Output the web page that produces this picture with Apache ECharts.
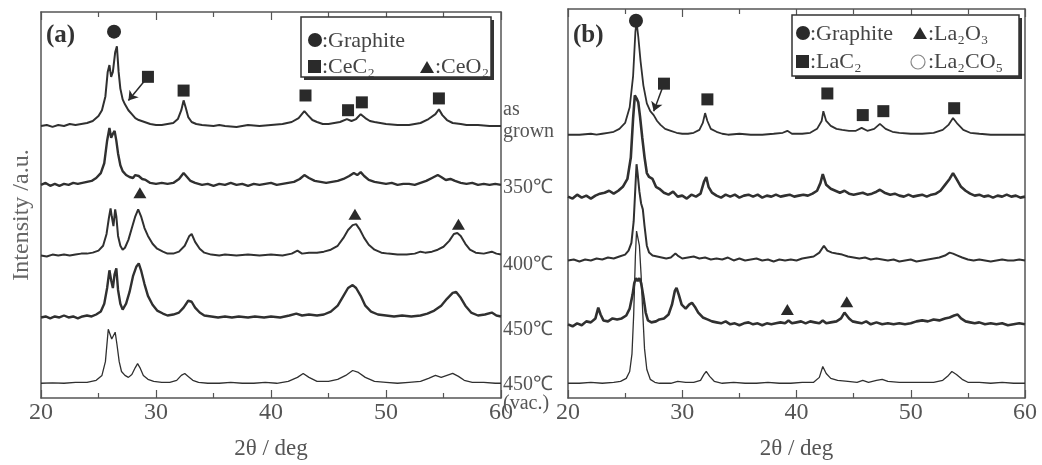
<!DOCTYPE html>
<html>
<head>
<meta charset="utf-8">
<title>XRD patterns</title>
<script src="https://cdn.jsdelivr.net/npm/echarts@6.0.0/dist/echarts.min.js"></script>
<style>
html,body{margin:0;padding:0;background:#fff;}
#main{width:1042px;height:465px;}
</style>
</head>
<body>
<div id="main"></div>
<script>
/** ---------------- data (2θ, intensity above own baseline) ---------------- */
var sampleNames = ['as grown', '350℃', '400℃', '450℃', '450℃ (vac.)'];

// (a) Ce
var ceAsGrown = [[20,0],[20.5,1],[21,-1],[21.5,1],[22,0],[22.5,2],[23,1],[23.5,2],[24,3],[24.5,5],[25,10],[25.3,16],[25.6,30],[25.8,55],[25.95,62],[26.1,50],[26.25,55],[26.45,75],[26.6,81],[26.75,55],[26.9,38],[27.1,27],[27.3,22],[27.6,16],[27.9,12],[28.2,8],[28.5,6],[29,4],[29.5,2],[30,1],[30.5,1],[31,2],[31.5,3],[31.9,7],[32.2,16],[32.4,26],[32.6,18],[32.8,9],[33.1,4],[33.5,2],[34,1],[35,0],[35.5,1],[36,0],[37,-1],[37.5,0],[38,1],[39,0],[40,1],[41,2],[41.8,4],[42.4,8],[42.9,15],[43.2,11],[43.6,6],[44,4],[44.5,2],[45,2],[45.5,3],[46,4],[46.6,7],[47,5],[47.4,7],[47.8,12],[48.2,8],[48.6,5],[49,4],[50,2],[51,1],[52,1],[53,3],[53.7,7],[54.3,12],[54.6,17],[54.9,11],[55.3,6],[55.8,3],[56.5,2],[57,1],[58,1],[59,0],[60,0]];
var ce350 = [[20,0],[20.4,2],[20.8,-1],[21.2,1],[21.6,-1],[22,1],[22.4,0],[22.8,2],[23.2,1],[23.6,2],[24,3],[24.4,4],[24.8,7],[25.2,12],[25.5,22],[25.75,45],[25.95,58],[26.1,48],[26.25,52],[26.4,55],[26.55,45],[26.7,32],[26.9,20],[27.1,14],[27.4,10],[27.7,8],[28,7],[28.2,10],[28.5,9],[28.8,6],[29.1,5],[29.5,2],[30,1],[30.5,2],[31,1],[31.5,2],[32,6],[32.4,12],[32.7,8],[33,4],[33.4,2],[34,0],[34.5,1],[35,-1],[35.5,1],[36,0],[36.5,2],[37,0],[37.5,1],[38,-1],[38.5,1],[39,0],[39.5,1],[40,2],[40.5,0],[41,1],[41.5,2],[42,3],[42.5,6],[42.9,10],[43.3,7],[43.8,4],[44.3,3],[44.8,2],[45.3,3],[45.8,4],[46.3,6],[46.8,9],[47.2,12],[47.5,10],[47.8,13],[48.1,9],[48.5,5],[49,3],[49.5,2],[50,1],[50.5,2],[51,0],[51.5,1],[52,1],[52.5,0],[53,2],[53.5,4],[54,7],[54.5,10],[54.8,8],[55.2,5],[55.6,6],[56,4],[56.5,2],[57,1],[57.5,2],[58,0],[58.5,1],[59,0],[59.5,1],[60,0]];
var ce400 = [[20,0],[20.5,-1],[21,1],[21.5,0],[22,1],[22.5,0],[23,1],[23.5,2],[24,2],[24.5,3],[25,5],[25.4,10],[25.7,22],[25.9,38],[26.05,48],[26.15,40],[26.3,30],[26.45,47],[26.55,40],[26.7,20],[26.9,10],[27.1,6],[27.3,8],[27.6,16],[27.9,28],[28.2,40],[28.45,47],[28.7,40],[29,28],[29.3,20],[29.7,12],[30.1,7],[30.6,4],[31,2],[31.5,2],[32,4],[32.5,10],[32.9,20],[33.1,22],[33.4,14],[33.8,7],[34.2,3],[34.8,1],[35.5,0],[36,1],[37,0],[38,1],[39,0],[40,1],[41,0],[41.8,2],[42.3,5],[42.7,2],[43.3,3],[44,3],[44.6,4],[45.2,6],[45.8,10],[46.3,18],[46.7,26],[47.1,31],[47.4,32],[47.7,27],[48.1,18],[48.5,11],[49,6],[49.6,3],[50.2,2],[51,1],[51.8,1],[52.5,2],[53,4],[53.4,3],[54,4],[54.5,6],[55,9],[55.5,15],[55.9,22],[56.2,23],[56.5,20],[56.9,12],[57.3,6],[57.8,3],[58.5,2],[59.2,4],[59.6,2],[60,1]];
var ce450 = [[20,0],[20.4,1],[20.8,-1],[21.2,1],[21.6,0],[22,2],[22.4,0],[22.8,1],[23.2,-1],[23.6,1],[24,2],[24.4,1],[24.8,3],[25.2,6],[25.5,14],[25.75,30],[25.95,48],[26.1,38],[26.25,30],[26.4,44],[26.55,50],[26.7,28],[26.9,14],[27.1,8],[27.4,14],[27.7,26],[28,42],[28.3,52],[28.5,55],[28.7,48],[29,34],[29.3,22],[29.7,13],[30.1,7],[30.6,4],[31,2],[31.5,3],[32,5],[32.4,10],[32.8,17],[33.1,16],[33.4,10],[33.8,5],[34.2,2],[34.8,1],[35.4,0],[36,1],[36.6,0],[37.2,1],[38,0],[38.6,1],[39.4,0],[40,1],[40.8,0],[41.6,2],[42.2,4],[42.7,2],[43.3,3],[44,2],[44.6,3],[45.2,6],[45.8,12],[46.3,22],[46.7,30],[47.1,33],[47.4,30],[47.8,22],[48.2,12],[48.7,6],[49.3,3],[50,2],[50.7,1],[51.4,2],[52.2,1],[53,2],[53.6,4],[54.2,7],[54.8,12],[55.3,19],[55.8,25],[56.1,26],[56.5,20],[56.9,12],[57.4,5],[58,2],[58.6,3],[59.2,5],[59.6,2],[60,1]];
var ceVac = [[20,0],[21,0.5],[22,0],[23,1],[24,1],[24.8,3],[25.3,8],[25.6,22],[25.85,55],[26,57],[26.15,45],[26.3,45],[26.45,52],[26.6,40],[26.8,22],[27,12],[27.3,8],[27.6,6],[27.9,9],[28.2,16],[28.4,20],[28.6,16],[28.9,8],[29.3,4],[29.8,2],[30.5,1],[31.2,1],[31.8,3],[32.2,8],[32.5,10],[32.8,7],[33.2,3],[33.7,1],[34.5,0],[35.5,0],[36.5,1],[37.5,0],[38.5,0],[39.5,1],[40.5,0],[41.5,2],[42.3,6],[42.8,10],[43.3,6],[44,2],[45,2],[45.8,4],[46.5,8],[47.1,13],[47.6,11],[48.2,6],[49,2],[50,1],[51,0],[52,1],[53,2],[53.7,5],[54.3,8],[54.8,6],[55.3,8],[55.8,10],[56.3,7],[56.8,3],[57.5,1],[58.5,1],[59.5,0],[60,0]];

// (b) La
var laAsGrown = [[20,0],[21,0],[22,1],[22.5,0],[23,1],[23.5,2],[24,3],[24.5,6],[25,12],[25.4,28],[25.7,60],[25.9,105],[26.0,115],[26.15,100],[26.35,75],[26.6,50],[26.9,32],[27.2,24],[27.5,20],[27.8,14],[28.1,10],[28.5,6],[29,4],[29.5,2],[30,1],[30.5,1],[31,2],[31.5,5],[31.8,12],[32.0,22],[32.2,14],[32.5,6],[33,3],[33.5,1],[34,0],[35,1],[36,0],[37,0],[38,1],[38.8,2],[39.2,4],[39.6,1],[40.5,1],[41.2,2],[41.8,6],[42.2,14],[42.35,24],[42.6,14],[43,9],[43.5,6],[44,5],[44.6,4],[45.2,4],[45.7,7],[46.2,4],[46.8,6],[47.3,11],[47.8,6],[48.4,3],[49,2],[50,1],[51,1],[52,2],[52.8,5],[53.3,10],[53.7,17],[54.1,11],[54.6,5],[55.2,2],[56,1],[57,0],[58,0],[59,0],[60,0]];
var la350 = [[20,0],[20.4,-2],[20.8,2],[21.2,-1],[21.6,1],[22,-2],[22.4,1],[22.8,3],[23.2,4],[23.6,6],[24,3],[24.4,6],[24.8,10],[25.2,18],[25.5,40],[25.7,80],[25.85,103],[26.0,100],[26.15,96],[26.3,82],[26.5,60],[26.7,40],[26.9,24],[27.1,20],[27.4,18],[27.7,10],[28,8],[28.4,4],[28.8,2],[29.2,5],[29.6,0],[30,1],[30.4,-2],[30.8,2],[31.2,0],[31.6,3],[31.9,15],[32.1,20],[32.3,10],[32.6,4],[33,1],[33.4,-1],[33.8,2],[34.2,0],[34.6,2],[35,-1],[35.4,1],[35.8,2],[36.2,0],[36.6,2],[37,-1],[37.4,1],[37.8,0],[38.2,2],[38.6,0],[39,1],[39.4,2],[39.8,0],[40.2,1],[40.6,2],[41,1],[41.4,3],[41.8,6],[42.1,14],[42.3,23],[42.6,12],[43,8],[43.4,6],[43.8,4],[44.2,6],[44.6,3],[45,2],[45.4,3],[45.8,4],[46.2,2],[46.6,3],[47,5],[47.3,7],[47.7,4],[48.2,2],[48.6,3],[49,1],[49.4,0],[49.8,2],[50.2,0],[50.6,1],[51,2],[51.4,0],[51.8,2],[52.2,3],[52.6,6],[53,12],[53.4,18],[53.7,24],[54,18],[54.4,10],[54.8,6],[55.2,3],[55.6,1],[56,2],[56.4,0],[56.8,1],[57.2,-1],[57.6,1],[58,0],[58.4,2],[58.8,0],[59.2,1],[59.6,-1],[60,0]];
var la400 = [[20,0],[20.5,1],[21,-1],[21.5,1],[22,0],[22.5,2],[23,1],[23.5,3],[24,2],[24.5,4],[25,6],[25.3,10],[25.55,18],[25.75,40],[25.9,75],[26.0,98],[26.1,88],[26.25,70],[26.4,58],[26.55,52],[26.7,35],[26.9,15],[27.1,8],[27.4,5],[27.8,4],[28.2,3],[28.6,2],[29,3],[29.4,7],[29.6,5],[30,2],[30.5,3],[31,4],[31.5,2],[32,3],[32.5,1],[33,2],[33.5,1],[34,3],[34.5,0],[35,2],[35.5,0],[36,1],[36.5,2],[37,0],[37.5,1],[38,-1],[38.5,1],[39,0],[39.5,1],[40,0],[40.5,2],[41,3],[41.5,4],[42,8],[42.4,15],[42.7,10],[43.1,8],[43.5,7],[44,6],[44.5,4],[45,3],[45.5,2],[46,3],[46.5,1],[47,2],[47.5,1],[48,0],[48.5,1],[49,-1],[49.5,0],[50,1],[50.5,-1],[51,0],[51.5,1],[52,2],[52.5,3],[53,5],[53.4,8],[53.7,7],[54.1,5],[54.5,3],[55,1],[55.5,0],[56,1],[56.5,0],[57,-1],[57.5,0],[58,1],[58.5,0],[59,0],[59.5,1],[60,0]];
var la450 = [[20,0],[20.4,-2],[20.8,1],[21.2,-1],[21.6,3],[22,2],[22.4,6],[22.65,17],[22.85,10],[23.1,4],[23.5,3],[23.9,6],[24.3,5],[24.7,6],[25.1,9],[25.4,16],[25.65,30],[25.8,42],[25.95,47],[26.1,44],[26.25,47],[26.4,42],[26.6,28],[26.8,12],[27.0,4],[27.3,2],[27.7,3],[28,5],[28.4,6],[28.8,10],[29.1,20],[29.35,34],[29.5,37],[29.7,30],[29.95,20],[30.3,16],[30.6,20],[30.85,22],[31.1,18],[31.4,12],[31.8,7],[32.2,5],[32.6,3],[33,2],[33.4,1],[33.8,3],[34.2,0],[34.6,1],[35,-1],[35.4,1],[35.8,2],[36.2,0],[36.6,1],[37,-1],[37.4,1],[37.8,0],[38.2,1],[38.6,2],[39,1],[39.3,4],[39.6,1],[40,2],[40.4,3],[40.8,1],[41.2,3],[41.6,2],[42,1],[42.3,4],[42.6,1],[43,2],[43.5,3],[43.9,6],[44.2,12],[44.35,14],[44.6,6],[44.9,3],[45.3,2],[45.7,1],[46.1,3],[46.5,0],[47,2],[47.5,0],[48,1],[48.5,0],[49,1],[49.5,0],[50,1],[50.5,3],[51,4],[51.5,3],[52,5],[52.5,4],[53,6],[53.4,7],[53.8,9],[54.1,10],[54.4,6],[54.8,3],[55.2,2],[55.6,1],[56,2],[56.5,0],[57,1],[57.5,0],[58,1],[58.5,-1],[59,0],[59.5,1],[60,0]];
var laVac = [[20,0],[21,0],[22,1],[23,0],[24,1],[24.6,2],[25.1,5],[25.4,12],[25.6,30],[25.75,70],[25.9,130],[26.0,155],[26.1,155],[26.25,140],[26.4,110],[26.55,70],[26.7,35],[26.9,14],[27.2,4],[27.6,1],[28,0],[29,0],[29.6,2],[30.3,1],[31,1],[31.6,3],[31.9,9],[32.1,12],[32.4,7],[32.8,2],[33.5,0],[34.5,1],[35.5,0],[36.5,0],[37.5,1],[38.5,0],[39.5,0],[40.5,1],[41.5,1],[42,6],[42.3,17],[42.6,10],[43,5],[43.6,3],[44.5,2],[45.3,1],[45.8,3],[46.3,1],[47,3],[47.5,4],[48,2],[49,1],[50,1],[51,1],[52,1],[52.8,3],[53.3,8],[53.6,12],[54,9],[54.5,4],[55,1],[56,1],[57,0],[58,1],[59,0],[60,0]];

// stacking offsets of each pattern (a.u.)
var offsetsA = [277, 217, 145, 82, 15];
var offsetsB = [268, 205, 140, 75, 15];

// phase markers [2θ, a.u.]
var graphiteA = [[26.35, 373]];
var carbideA = [[29.3, 327], [32.4, 313], [43.0, 308], [46.7, 293], [47.9, 301], [54.6, 305]];
var oxideA = [[28.6, 209], [47.3, 187], [56.3, 177]];
var arrowA = [[29.3, 327], [27.6, 303]];

var graphiteB = [[25.95, 384]];
var carbideB = [[28.4, 320], [32.2, 304], [42.7, 310], [45.8, 288], [47.6, 292], [53.8, 295]];
var oxideB = [[39.2, 90], [44.4, 98]];
var arrowB = [[28.4, 320], [27.5, 292]];

var xTicks = { min: 20, max: 60, interval: 10 };

window.onload = function() {
	initCharts();
};

/** -------- build stacked pattern series ------ */
function stack(trace, offset) {
	var out = [];
	for (var i = 0; i < trace.length; i++) {
		out.push([trace[i][0], trace[i][1] + offset]);
	}
	return out;
}

function patternSeries(traces, offsets, idx, widths) {
	var list = [];
	for (var i = 0; i < traces.length; i++) {
		list.push({
			name: sampleNames[i],
			type: 'line',
			xAxisIndex: idx * 2,
			yAxisIndex: idx * 2,
			data: stack(traces[i], offsets[i]),
			showSymbol: false,
			symbol: 'none',
			lineStyle: { color: '#303030', width: widths[i] },
			z: 3
		});
	}
	return list;
}

function markerSeries(data, symbol, size, idx) {
	return {
		type: 'scatter',
		xAxisIndex: idx * 2,
		yAxisIndex: idx * 2,
		data: data,
		symbol: symbol,
		symbolSize: size,
		itemStyle: { color: '#2a2a2a', opacity: 1 },
		z: 5
	};
}

function arrowSeries(data, idx) {
	return {
		type: 'lines',
		coordinateSystem: 'cartesian2d',
		xAxisIndex: idx * 2,
		yAxisIndex: idx * 2,
		symbol: ['none', 'arrow'],
		symbolSize: 9,
		lineStyle: { color: '#2a2a2a', width: 1.5, opacity: 1 },
		data: [{ coords: data }],
		z: 4
	};
}

function xAxisPair(grid) {
	var base = {
		gridIndex: grid,
		type: 'value',
		min: xTicks.min,
		max: xTicks.max,
		interval: xTicks.interval,
		axisLine: { show: true, onZero: false, lineStyle: { color: '#555', width: 1.5 } },
		axisTick: { show: true, inside: true, length: 8, lineStyle: { color: '#555', width: 1.2 } },
		minorTick: { show: true, splitNumber: 2, length: 5, lineStyle: { color: '#555', width: 1.2 } },
		splitLine: { show: false },
		axisLabel: { show: true, fontFamily: 'Liberation Serif', fontSize: 24, color: '#555', margin: 3 },
		name: '2θ / deg',
		nameLocation: 'middle',
		nameGap: 39,
		nameTextStyle: { fontFamily: 'Liberation Serif', fontSize: 23, color: '#555' }
	};
	var top = echarts.util.clone(base);
	top.position = 'top';
	top.axisLabel = { show: false };
	top.name = '';
	return [base, top];
}

function yAxisPair(grid, max) {
	var base = {
		gridIndex: grid,
		type: 'value',
		min: 0,
		max: max,
		axisLine: { show: true, lineStyle: { color: '#555', width: 1.5 } },
		axisTick: { show: false },
		axisLabel: { show: false },
		splitLine: { show: false }
	};
	var right = echarts.util.clone(base);
	right.position = 'right';
	return [base, right];
}

/** -------- legend boxes and labels ------ */
function textEl(x, y, str, size, color, extra) {
	var el = {
		type: 'text',
		x: x,
		y: y,
		style: {
			text: str,
			fontFamily: 'Liberation Serif',
			fontSize: size,
			fill: color,
			verticalAlign: 'middle'
		},
		z: 20
	};
	if (extra) {
		for (var k in extra) { el.style[k] = extra[k]; }
	}
	return el;
}

function legendBox(g, x, y, w, h) {
	// dark drop shadow, then the white box
	g.push({
		type: 'rect',
		shape: { x: x + 3, y: y + 3, width: w, height: h },
		style: { fill: '#333' },
		z: 9
	});
	g.push({
		type: 'rect',
		shape: { x: x, y: y, width: w, height: h },
		style: { fill: '#fff', stroke: '#333', lineWidth: 1.5 },
		z: 10
	});
}

function buildGraphic() {
	var g = [];
	// (a) legend
	legendBox(g, 301, 17, 190, 60);
	g.push({ type: 'circle', shape: { cx: 315, cy: 40, r: 7 }, style: { fill: '#2a2a2a' }, z: 20 });
	g.push(textEl(322, 41, ':Graphite', 22, '#444'));
	g.push({ type: 'rect', shape: { x: 308, y: 60, width: 13, height: 13 }, style: { fill: '#2a2a2a' }, z: 20 });
	g.push(textEl(322, 67, ':CeC₂', 22, '#444'));
	g.push({ type: 'polygon', shape: { points: [[420, 73], [434, 73], [427, 61]] }, style: { fill: '#2a2a2a' }, z: 20 });
	g.push(textEl(435, 67, ':CeO₂', 22, '#444'));
	// (b) legend
	legendBox(g, 792, 15, 227, 61);
	g.push({ type: 'circle', shape: { cx: 803, cy: 33, r: 7 }, style: { fill: '#2a2a2a' }, z: 20 });
	g.push(textEl(810, 34, ':Graphite', 22, '#444'));
	g.push({ type: 'polygon', shape: { points: [[913, 39], [927, 39], [920, 27]] }, style: { fill: '#2a2a2a' }, z: 20 });
	g.push(textEl(928, 34, ':La₂O₃', 22, '#444'));
	g.push({ type: 'rect', shape: { x: 796, y: 55, width: 13, height: 13 }, style: { fill: '#2a2a2a' }, z: 20 });
	g.push(textEl(810, 62, ':LaC₂', 22, '#444'));
	g.push({ type: 'circle', shape: { cx: 918, cy: 62, r: 7 }, style: { fill: 'none', stroke: '#888', lineWidth: 1.2 }, z: 20 });
	g.push(textEl(928, 62, ':La₂CO₅', 22, '#444'));
	// panel tags
	g.push(textEl(46, 36, '(a)', 25, '#333', { fontWeight: 'bold' }));
	g.push(textEl(573, 36, '(b)', 25, '#333', { fontWeight: 'bold' }));
	// sample labels
	g.push(textEl(503, 110, 'as', 20, '#555'));
	g.push(textEl(503, 132, 'grown', 20, '#555'));
	g.push(textEl(503, 188, '350℃', 20, '#555'));
	g.push(textEl(503, 265, '400℃', 20, '#555'));
	g.push(textEl(503, 330, '450℃', 20, '#555'));
	g.push(textEl(503, 385, '450℃', 20, '#555'));
	g.push(textEl(503, 404, '(vac.)', 20, '#555'));
	// y title
	g.push({
		type: 'text',
		x: 22,
		y: 215,
		rotation: Math.PI / 2,
		style: { text: 'Intensity /a.u.', fontFamily: 'Liberation Serif', fontSize: 24, fill: '#666', align: 'center', verticalAlign: 'middle' },
		z: 20
	});
	return g;
}

/** -------- chart ------ */
function initCharts() {
	var chart = echarts.init(document.getElementById('main'), null, { renderer: 'canvas' });
	var xa = xAxisPair(0), xb = xAxisPair(1);
	var ya = yAxisPair(0, 393), yb = yAxisPair(1, 396);
	var series = []
		.concat(patternSeries([ceAsGrown, ce350, ce400, ce450, ceVac], offsetsA, 0, [2.0, 2.4, 2.0, 2.4, 1.3]))
		.concat(patternSeries([laAsGrown, la350, la400, la450, laVac], offsetsB, 1, [1.8, 2.6, 2.0, 2.6, 1.3]));
	series.push(markerSeries(graphiteA, 'circle', 14, 0));
	series.push(markerSeries(carbideA, 'rect', 12, 0));
	series.push(markerSeries(oxideA, 'triangle', [13, 11], 0));
	series.push(arrowSeries(arrowA, 0));
	series.push(markerSeries(graphiteB, 'circle', 14, 1));
	series.push(markerSeries(carbideB, 'rect', 12, 1));
	series.push(markerSeries(oxideB, 'triangle', [13, 11], 1));
	series.push(arrowSeries(arrowB, 1));

	var option = {
		animation: false,
		backgroundColor: '#fff',
		grid: [
			{ left: 41, top: 12, width: 460, height: 393 },
			{ left: 568, top: 9, width: 457, height: 396 }
		],
		xAxis: [xa[0], xa[1], xb[0], xb[1]],
		yAxis: [ya[0], ya[1], yb[0], yb[1]],
		series: series,
		graphic: buildGraphic()
	};
	chart.setOption(option);

	window.onresize = function () {
		chart.resize();
	};
}
</script>
</body>
</html>
